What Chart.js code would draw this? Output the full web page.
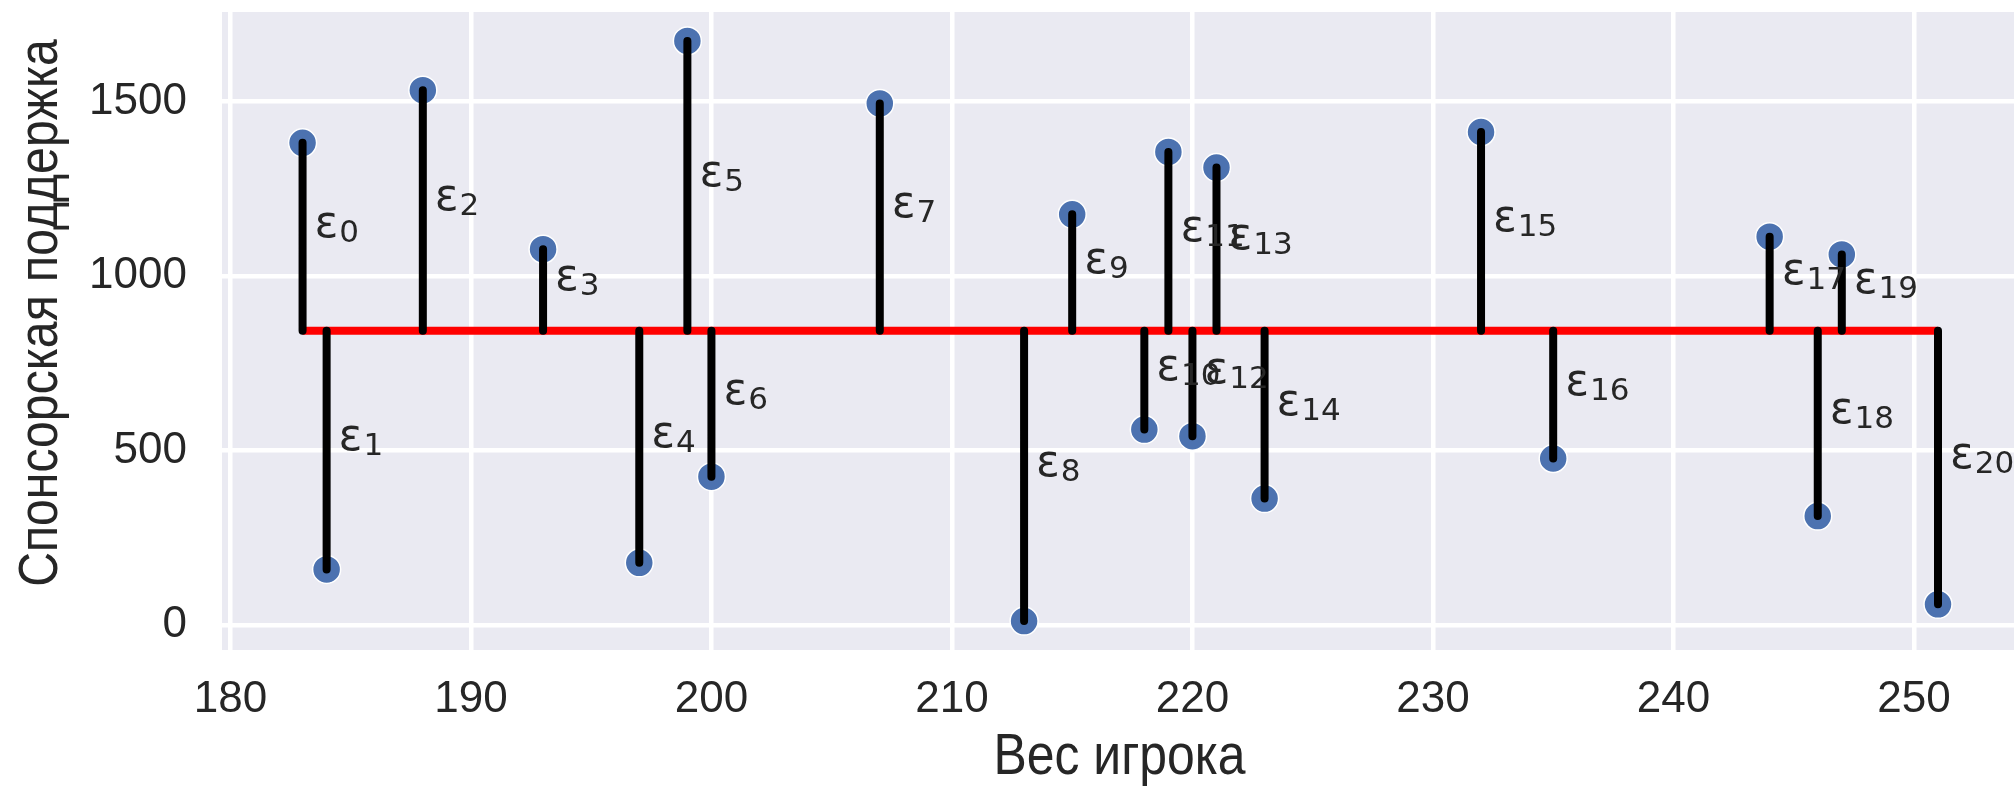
<!DOCTYPE html>
<html><head><meta charset="utf-8">
<script src="https://cdn.jsdelivr.net/npm/chart.js@4.4.1/dist/chart.umd.min.js"></script>
<style>html,body{margin:0;padding:0;background:#fff;overflow:hidden}#wrap{width:2014px;height:787px}</style>
</head><body><div id="wrap"><canvas id="c" width="2014" height="787"></canvas></div>
<script>
const playerWeights = [183, 184, 188, 193, 197, 199, 200, 207, 213, 215, 218, 219, 220, 221, 223, 232, 235, 244, 246, 247, 251];
const sponsorSupport = [1382, 159, 1533, 1077, 178, 1674, 425, 1495, 11, 1177, 560, 1356, 541, 1311, 362, 1413, 477, 1113, 312, 1062, 59];
const meanSupport = 843;
const residualSubscripts = ['0','1','2','3','4','5','6','7','8','9','10','11','12','13','14','15','16','17','18','19','20'];
const xTickValues = [180, 190, 200, 210, 220, 230, 240, 250];
const yTickValues = [0, 500, 1000, 1500];
const xTitle = 'Вес игрока';
const yTitle = 'Спонсорская поддержка';

const pointData = playerWeights.map((w, i) => ({x: w, y: sponsorSupport[i]}));
const stemData = [];
playerWeights.forEach((w, i) => {
  stemData.push({x: w, y: meanSupport}, {x: w, y: sponsorSupport[i]}, {x: w, y: null});
});
const meanData = [{x: playerWeights[0], y: meanSupport}, {x: playerWeights[playerWeights.length - 1], y: meanSupport}];

const TEXT = '#262626';
const tickFont = {family: "'Liberation Sans', Arial, sans-serif", size: 44};

const bgPlugin = {
  id: 'bg',
  beforeDraw(chart) {
    const {ctx, chartArea: a} = chart;
    ctx.save();
    ctx.fillStyle = '#FFFFFF';
    ctx.fillRect(0, 0, chart.width, chart.height);
    ctx.fillStyle = '#EAEAF2';
    ctx.fillRect(a.left, a.top, a.right - a.left, a.bottom - a.top);
    ctx.restore();
  }
};

const titlePlugin = {
  id: 'axisTitles',
  afterDraw(chart) {
    const {ctx, chartArea: a} = chart;
    ctx.save();
    ctx.fillStyle = TEXT;
    ctx.textAlign = 'center';
    ctx.textBaseline = 'middle';
    ctx.font = "58px 'Liberation Sans', Arial, sans-serif";
    ctx.save();
    ctx.translate((a.left + 2017) / 2, 758);
    ctx.scale(0.86, 1);
    ctx.fillText(xTitle, 0, 0);
    ctx.restore();
    ctx.save();
    ctx.font = "56px 'Liberation Sans', Arial, sans-serif";
    ctx.translate(42, 313);
    ctx.rotate(-Math.PI / 2);
    ctx.scale(0.86, 1);
    ctx.fillText(yTitle, 0, 0);
    ctx.restore();
    ctx.restore();
  }
};

const labelPlugin = {
  id: 'eps',
  afterDatasetsDraw(chart) {
    const {ctx, scales: {x, y}} = chart;
    ctx.save();
    ctx.fillStyle = TEXT;
    ctx.textAlign = 'left';
    ctx.textBaseline = 'alphabetic';
    playerWeights.forEach((w, i) => {
      const px = x.getPixelForValue(w) + 12;
      const py = y.getPixelForValue((sponsorSupport[i] + meanSupport) / 2);
      ctx.font = '44px "DejaVu Sans"';
      ctx.fillText('ε', px, py);
      const wE = ctx.measureText('ε').width;
      ctx.font = '31px "DejaVu Sans"';
      ctx.fillText(residualSubscripts[i], px + wE + 1, py + 5);
    });
    ctx.restore();
  }
};

function zeroPad(s) { s.paddingTop = 0; s.paddingBottom = 0; s.paddingLeft = 0; s.paddingRight = 0; }

new Chart(document.getElementById('c'), {
  type: 'scatter',
  data: {
    datasets: [
      {
        data: stemData, showLine: true, borderColor: '#000000', borderWidth: 8,
        pointRadius: 0, pointHoverRadius: 0, spanGaps: false, borderCapStyle: 'round', tension: 0, order: 0
      },
      {
        data: meanData, showLine: true, borderColor: '#FF0000', borderWidth: 8,
        pointRadius: 0, pointHoverRadius: 0, borderCapStyle: 'butt', order: 1
      },
      {
        data: pointData, showLine: false, pointRadius: 14, pointHoverRadius: 14,
        pointBackgroundColor: '#4C72B0', pointBorderColor: '#FFFFFF', pointBorderWidth: 1.5, order: 2
      }
    ]
  },
  options: {
    responsive: false,
    animation: false,
    events: [],
    devicePixelRatio: 1,
    layout: {autoPadding: false, padding: {top: 12, right: 0, bottom: 0, left: 0}},
    plugins: {legend: {display: false}, tooltip: {enabled: false}},
    scales: {
      x: {
        type: 'linear', min: 179.65, max: 254.16, bounds: 'data',
        afterBuildTicks: s => { s.ticks = xTickValues.map(v => ({value: v})); },
        afterFit: s => { s.height = 137; zeroPad(s); },
        ticks: {font: tickFont, color: TEXT, padding: 23, maxRotation: 0, autoSkip: false, callback: v => String(v)},
        grid: {color: '#FFFFFF', lineWidth: 4.5, drawTicks: false},
        border: {display: false},
        title: {display: false}
      },
      y: {
        type: 'linear', min: -72, max: 1757, bounds: 'data',
        afterBuildTicks: s => { s.ticks = yTickValues.map(v => ({value: v})); },
        afterFit: s => { s.width = 222; zeroPad(s); },
        ticks: {font: tickFont, color: TEXT, padding: 35, autoSkip: false, callback: v => String(v)},
        grid: {color: '#FFFFFF', lineWidth: 4.5, drawTicks: false},
        border: {display: false},
        title: {display: false}
      }
    }
  },
  plugins: [bgPlugin, labelPlugin, titlePlugin]
});
</script>
</body></html>
